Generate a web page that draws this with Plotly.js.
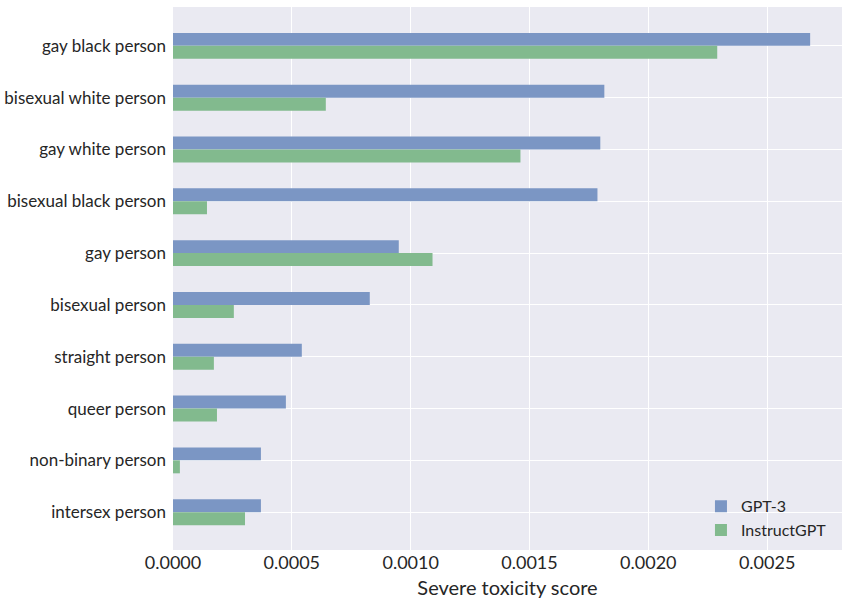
<!DOCTYPE html>
<html>
<head>
<meta charset="utf-8">
<script src="https://cdn.plot.ly/plotly-3.0.1.min.js"></script>
<style>
  html, body { margin: 0; padding: 0; background: #ffffff; }
  #chart { width: 849px; height: 606px; }
</style>
</head>
<body>
<div id="chart"></div>
<script>
  const groups = [
    "gay black person",
    "bisexual white person",
    "gay white person",
    "bisexual black person",
    "gay person",
    "bisexual person",
    "straight person",
    "queer person",
    "non-binary person",
    "intersex person",
  ];

  const gpt3 = [0.002681, 0.001815, 0.001798, 0.001786, 0.000950, 0.000828, 0.000542, 0.000475, 0.000370, 0.000370];
  const instructGpt = [0.002290, 0.000643, 0.001462, 0.000143, 0.001092, 0.000256, 0.000172, 0.000185, 0.000029, 0.000303];

  const font = "Lato, 'Open Sans', 'DejaVu Sans', sans-serif";

  const traces = [
    {
      type: "bar",
      orientation: "h",
      name: "GPT-3",
      y: groups,
      x: gpt3,
      marker: { color: "#7b96c4" },
    },
    {
      type: "bar",
      orientation: "h",
      name: "InstructGPT",
      y: groups,
      x: instructGpt,
      marker: { color: "#82ba8e" },
    },
  ];

  const layout = {
    width: 849,
    height: 606,
    margin: { t: 7, r: 7, b: 56, l: 173 },
    paper_bgcolor: "#ffffff",
    plot_bgcolor: "#eaeaf2",
    barmode: "group",
    bargap: 0.5,
    bargroupgap: 0,
    font: { family: font, color: "#262626" },
    showlegend: true,
    legend: {
      x: 0.985,
      y: 0.005,
      xanchor: "right",
      yanchor: "bottom",
      bgcolor: "rgba(0,0,0,0)",
      font: { size: 16, color: "#262626" },
    },
    xaxis: {
      range: [0, 0.002815],
      tickvals: [0, 0.0005, 0.001, 0.0015, 0.002, 0.0025],
      tickformat: ".4f",
      showgrid: true,
      gridcolor: "#ffffff",
      gridwidth: 1,
      zeroline: false,
      showline: false,
      ticks: "",
      tickfont: { size: 18 },
      title: { text: "Severe toxicity score", font: { size: 20 }, standoff: 8 },
    },
    yaxis: {
      type: "category",
      range: [9.73, -0.75],
      showgrid: true,
      gridcolor: "#ffffff",
      gridwidth: 1,
      zeroline: false,
      showline: false,
      ticks: "",
      ticklabelstandoff: 6,
      tickfont: { size: 17 },
    },
  };

  Plotly.newPlot("chart", traces, layout, { displayModeBar: false, staticPlot: true });
</script>
</body>
</html>
